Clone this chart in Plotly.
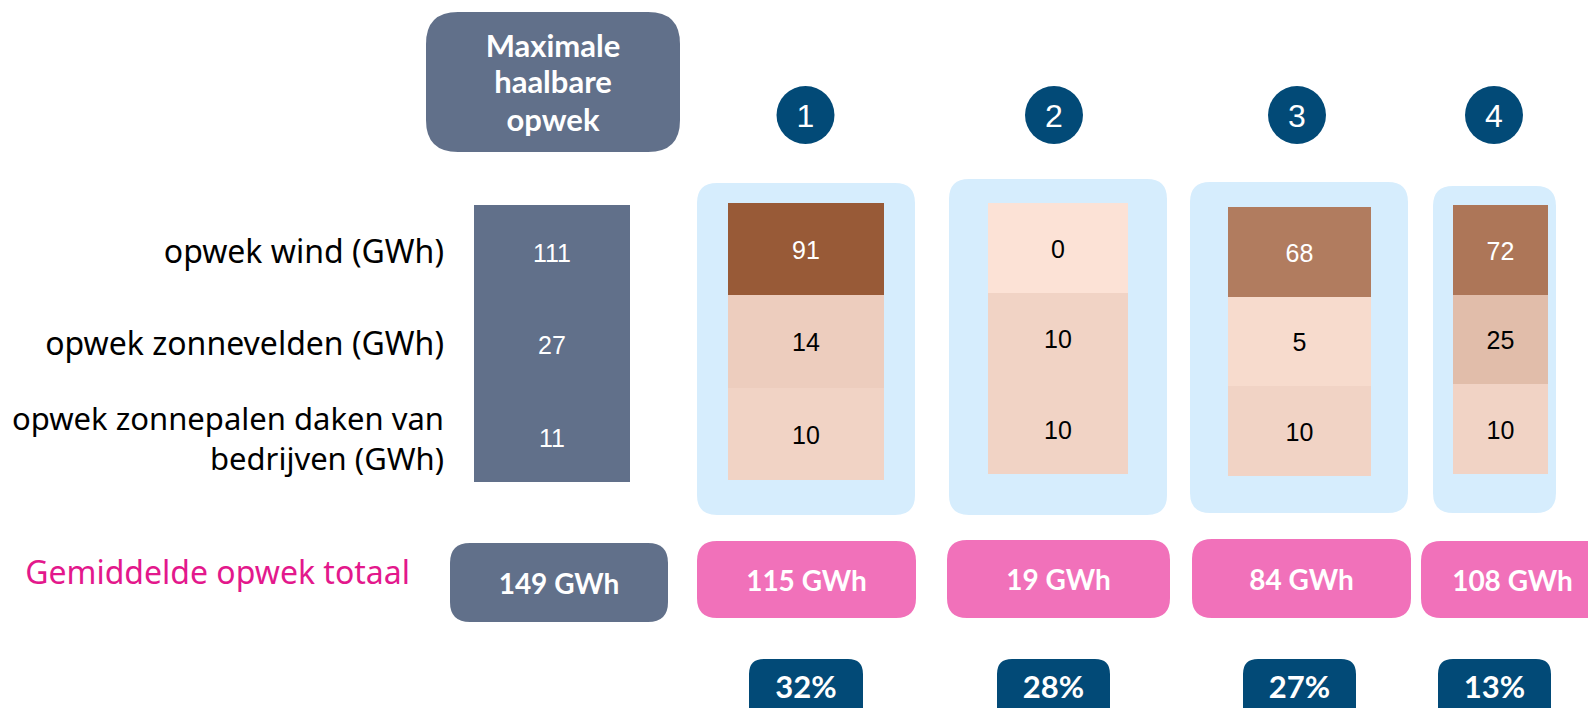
import plotly.graph_objects as go

# ---------------- data ----------------
row_labels = ["opwek wind (GWh)", "opwek zonnevelden (GWh)", "opwek zonnepalen daken van<br>bedrijven (GWh)"]
max_header = ["Maximale", "haalbare", "opwek"]
max_values = [111, 27, 11]
max_total = 149
scenario_ids = ["1", "2", "3", "4"]
wind = [91, 0, 68, 72]
zonnevelden = [14, 10, 5, 25]
daken = [10, 10, 10, 10]
totals = [115, 19, 84, 108]
shares = [32, 28, 27, 13]
total_label = "Gemiddelde opwek totaal"

# ---------------- layout geometry (pixels) ----------------
W, H = 1588, 708
PAGE_OFF = 0  # body margin is removed by the post script
GRAY = "#61708A"
NAVY = "#024A77"
PINK = "#F171BA"
LBLUE = "#D6EDFD"
MAGENTA = "#E3188C"
cell_scale = [[0, "#FCE2D6"], [1, "#985A37"]]

max_cells_x = (474, 630)
max_cells_y = (205, 297, 389, 482)
cells_x = [(728, 884), (988, 1128), (1228, 1371), (1453, 1548)]
cells_y = [(203, 295, 387, 480), (203, 293, 383, 474), (207, 296, 386, 476), (205, 294, 384, 474)]
bg_boxes = [(697, 183, 915, 515), (949, 179, 1167, 515), (1190, 182, 1408, 513), (1433, 186, 1556, 513)]
pink_boxes = [(697, 541, 916, 618), (947, 540, 1170, 618), (1192, 539, 1411, 618), (1421, 541, 1640, 618)]
pct_boxes = [(749, 659, 863, 730), (997, 659, 1110, 730), (1243, 659, 1356, 730), (1438, 659, 1551, 730)]
circle_c = [(805.5, 115), (1054, 115), (1297, 115), (1494, 115)]
circle_r = 29
max_head_box = (426, 12, 680, 152)
max_head_lines_y = [49, 85, 123]
max_total_box = (450, 543, 668, 622)
label_right = 444
label_sizes = [32, 32, 31]


def rrect(x0, y0, x1, y1, r):
    return (f"M{x0+r},{y0} L{x1-r},{y0} Q{x1},{y0} {x1},{y0+r} L{x1},{y1-r} "
            f"Q{x1},{y1} {x1-r},{y1} L{x0+r},{y1} Q{x0},{y1} {x0},{y1-r} "
            f"L{x0},{y0+r} Q{x0},{y0} {x0+r},{y0} Z")


def mid(a, b):
    return (a + b) / 2


fig = go.Figure()
shapes = []

# background boxes
for b in bg_boxes:
    shapes.append(dict(type="path", path=rrect(*b, 20), fillcolor=LBLUE, line=dict(width=0), layer="below"))
for b in pink_boxes:
    shapes.append(dict(type="path", path=rrect(*b, 20), fillcolor=PINK, line=dict(width=0), layer="below"))
for b in pct_boxes:
    shapes.append(dict(type="path", path=rrect(*b, 15), fillcolor=NAVY, line=dict(width=0), layer="below"))
shapes.append(dict(type="path", path=rrect(*max_head_box, 32), fillcolor=GRAY, line=dict(width=0), layer="below"))
shapes.append(dict(type="path", path=rrect(*max_total_box, 20), fillcolor=GRAY, line=dict(width=0), layer="below"))
for (cx, cy) in circle_c:
    shapes.append(dict(type="circle", x0=cx - circle_r, x1=cx + circle_r, y0=cy - circle_r, y1=cy + circle_r,
                       fillcolor=NAVY, line=dict(width=0), layer="below"))

# max column (uniform gray)
fig.add_trace(go.Heatmap(z=[[v] for v in max_values], x=list(max_cells_x), y=list(max_cells_y),
                         colorscale=[[0, GRAY], [1, GRAY]], showscale=False, hoverinfo="skip"))
# scenario columns coloured by value
for i in range(len(scenario_ids)):
    z = [[wind[i]], [zonnevelden[i]], [daken[i]]]
    fig.add_trace(go.Heatmap(z=z, x=list(cells_x[i]), y=list(cells_y[i]), zmin=0, zmax=91,
                             colorscale=cell_scale, showscale=False, hoverinfo="skip"))

# cell texts
tx, ty, tt, tc = [], [], [], []
for r, v in enumerate(max_values):
    tx.append(mid(*max_cells_x))
    ty.append(mid(max_cells_y[r], max_cells_y[r + 1]) + 5)
    tt.append(str(v))
    tc.append("white")
for i in range(len(scenario_ids)):
    vals = [wind[i], zonnevelden[i], daken[i]]
    for r, v in enumerate(vals):
        tx.append(mid(*cells_x[i]))
        ty.append(mid(cells_y[i][r], cells_y[i][r + 1]) + 4)
        tt.append(str(v))
        tc.append("white" if v > 45 else "black")
fig.add_trace(go.Scatter(x=tx, y=ty, text=tt, mode="text", textposition="middle center",
                         textfont=dict(family="Liberation Sans, Arial", size=25, color=tc),
                         hoverinfo="skip", cliponaxis=False))

# row labels
fig.add_trace(go.Scatter(x=[label_right] * 3,
                         y=[mid(max_cells_y[r], max_cells_y[r + 1]) + (4 if r < 2 else 7) for r in range(3)],
                         text=row_labels, mode="text", textposition="middle left",
                         textfont=dict(family="Noto Sans", size=label_sizes, color="black"),
                         hoverinfo="skip", cliponaxis=False))

# scenario numbers in circles
fig.add_trace(go.Scatter(x=[c[0] for c in circle_c], y=[c[1] + 4 for c in circle_c], text=scenario_ids,
                         mode="text", textposition="middle center",
                         textfont=dict(family="Liberation Sans, Arial", size=32, color="white"),
                         hoverinfo="skip", cliponaxis=False))

# header of max column
fig.add_trace(go.Scatter(x=[mid(max_head_box[0], max_head_box[2])] * len(max_header), y=max_head_lines_y,
                         text=["<b>" + t + "</b>" for t in max_header], mode="text", textposition="middle center",
                         textfont=dict(family="Lato", size=31, color="white"),
                         hoverinfo="skip", cliponaxis=False))

# totals
fig.add_trace(go.Scatter(x=[mid(max_total_box[0], max_total_box[2])] + [mid(b[0], min(b[2], 1604)) for b in pink_boxes],
                         y=[mid(max_total_box[1], max_total_box[3]) + 4] + [mid(b[1], b[3]) + 4 for b in pink_boxes],
                         text=[f"<b>{max_total} GWh</b>"] + [f"<b>{t} GWh</b>" for t in totals],
                         mode="text", textposition="middle center",
                         textfont=dict(family="Lato", size=28, color="white"),
                         hoverinfo="skip", cliponaxis=False))

# shares
fig.add_trace(go.Scatter(x=[mid(b[0], b[2]) for b in pct_boxes], y=[690] * len(pct_boxes),
                         text=[f"<b>{s}%</b>" for s in shares], mode="text", textposition="middle center",
                         textfont=dict(family="Lato", size=31, color="white"),
                         hoverinfo="skip", cliponaxis=False))

# total label
fig.add_trace(go.Scatter(x=[410], y=[576], text=[total_label], mode="text", textposition="middle left",
                         textfont=dict(family="Noto Sans", size=32, color=MAGENTA),
                         hoverinfo="skip", cliponaxis=False))

fig.update_layout(
    width=W, height=H, margin=dict(l=0, r=0, t=0, b=0),
    paper_bgcolor="white", plot_bgcolor="white", showlegend=False, shapes=shapes,
    hovermode=False,
    xaxis=dict(range=[PAGE_OFF, W + PAGE_OFF], visible=False, fixedrange=True),
    yaxis=dict(range=[H + PAGE_OFF, PAGE_OFF], visible=False, fixedrange=True),
)
fig.write_html("out.html", config={"displayModeBar": False, "staticPlot": True},
               post_script="document.body.style.margin='0px';document.body.style.overflow='hidden';")
